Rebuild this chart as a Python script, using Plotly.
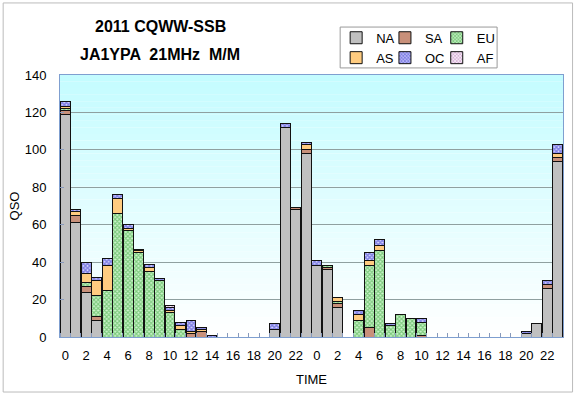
import plotly.graph_objects as go

hours = list(range(24)) + list(range(24))
tick_labels = [str(h) for h in range(0, 24, 2)] * 2

NA = [119, 61, 24, 9, 0, 0, 0, 0, 0, 0, 0, 0, 0, 0, 0, 0, 0, 0, 0, 0, 4, 112, 68, 98,
      38, 36, 16, 0, 0, 0, 0, 0, 0, 0, 0, 0, 0, 0, 0, 0, 0, 0, 0, 0, 2, 7, 26, 94]
SA = [2, 4, 3, 2, 0, 0, 0, 0, 0, 0, 0, 0, 2, 3, 0, 0, 0, 0, 0, 0, 0, 0, 1, 2,
      0, 1, 2, 0, 0, 5, 0, 0, 0, 0, 1, 0, 0, 0, 0, 0, 0, 0, 0, 0, 0, 0, 2, 2]
EU = [1, 0, 2, 11, 25, 66, 57, 45, 35, 30, 13, 4, 0, 0, 0, 0, 0, 0, 0, 0, 0, 0, 0, 0,
      0, 1, 1, 0, 9, 33, 46, 6, 12, 10, 7, 0, 0, 0, 0, 0, 0, 0, 0, 0, 0, 0, 0, 0]
AS = [1, 2, 5, 8, 13, 8, 1, 1, 2, 0, 1, 2, 1, 1, 0, 0, 0, 0, 0, 0, 0, 0, 0, 3,
      0, 0, 2, 0, 3, 3, 3, 0, 0, 0, 0, 0, 0, 0, 0, 0, 0, 0, 0, 0, 0, 0, 0, 2]
OC = [3, 1, 6, 2, 4, 2, 2, 1, 2, 1, 2, 2, 6, 1, 1, 0, 0, 0, 0, 0, 3, 2, 0, 1,
      3, 0, 0, 0, 2, 4, 3, 1, 0, 0, 2, 0, 0, 0, 0, 0, 0, 0, 0, 0, 1, 0, 2, 5]
AF = [0, 0, 0, 0, 0, 0, 0, 0, 0, 0, 1, 0, 0, 0, 0, 0, 0, 0, 0, 0, 0, 0, 0, 0,
      0, 0, 0, 0, 0, 0, 0, 0, 0, 0, 0, 0, 0, 0, 0, 0, 0, 0, 0, 0, 0, 0, 0, 0]

x = list(range(len(hours)))

series = [
    ("NA", NA, dict(color="#C0C0C0")),
    ("SA", SA, dict(color="#C8907A")),
    ("EU", EU, dict(color="#A0E0A0", pattern=dict(shape="x", fgcolor="#2E9E2E", bgcolor="#CCF5CC", size=3, solidity=0.6))),
    ("AS", AS, dict(color="#FFCC80")),
    ("OC", OC, dict(color="#6666DD", pattern=dict(shape="x", fgcolor="#2828C8", bgcolor="#D8D8FF", size=3, solidity=0.7))),
    ("AF", AF, dict(color="#E0A8E0", pattern=dict(shape="x", fgcolor="#B060B0", bgcolor="#FFFFFF", size=3, solidity=0.6))),
]
legend_pos = [(0.549, 1.142), (0.646, 1.142), (0.749, 1.142),
              (0.549, 1.066), (0.646, 1.066), (0.749, 1.066)]

fig = go.Figure()
legends = {}
for i, (name, vals, mk) in enumerate(series):
    marker = dict(mk)
    marker["line"] = dict(color="#111111", width=1)
    lg = "legend" if i == 0 else "legend%d" % (i + 1)
    fig.add_trace(go.Bar(x=x, y=vals, name=name, marker=marker, legend=lg))
    lx, ly = legend_pos[i]
    legends[lg] = dict(orientation="h", x=lx, y=ly, xanchor="left", yanchor="middle",
                       bgcolor="rgba(0,0,0,0)", font=dict(size=13), itemclick=False)

# gradient background bands (plot area)
shapes = []
n = 40
top = (196, 252, 255)
bot = (255, 255, 255)
for i in range(n):
    t = i / (n - 1)
    c = tuple(round(top[k] + (bot[k] - top[k]) * t) for k in range(3))
    shapes.append(dict(type="rect", xref="paper", yref="paper",
                       x0=0, x1=1, y0=1 - (i + 1) / n, y1=1 - i / n,
                       fillcolor="rgb(%d,%d,%d)" % c, line=dict(width=0), layer="below"))
# outer chart border
shapes.append(dict(type="rect", xref="paper", yref="paper",
                   x0=-0.113, x1=1.019, y0=-0.21, y1=1.275,
                   line=dict(color="#BBBBBB", width=1), layer="below"))
# legend box
shapes.append(dict(type="rect", xref="paper", yref="paper",
                   x0=0.557, x1=0.869, y0=1.027, y1=1.183,
                   line=dict(color="#999999", width=1), fillcolor="white", layer="below"))

fig.update_layout(
    width=578, height=396,
    margin=dict(l=60, r=15, t=75, b=59, autoexpand=False),
    paper_bgcolor="white",
    plot_bgcolor="rgba(0,0,0,0)",
    barmode="stack",
    bargap=0.06,
    font=dict(family="Liberation Sans, Arial, sans-serif", color="black", size=12),
    shapes=shapes,
    showlegend=True,
    annotations=[
        dict(text="<b>2011 CQWW-SSB</b>", xref="paper", yref="paper", x=0.199, y=1.185,
             xanchor="center", yanchor="middle",
             showarrow=False, font=dict(size=16, family="Liberation Sans, Arial, sans-serif")),
        dict(text="<b>JA1YPA  21MHz  M/M</b>", xref="paper", yref="paper", x=0.199, y=1.08,
             xanchor="center", yanchor="middle",
             showarrow=False, font=dict(size=16, family="Liberation Sans, Arial, sans-serif")),
    ],
    **legends,
)

fig.update_xaxes(
    range=[-0.5, len(x) - 0.5],
    tickmode="array", tickvals=x[::2], ticktext=tick_labels,
    ticks="", showgrid=False, zeroline=False,
    showline=True, linecolor="#7F9FD0", linewidth=1, mirror=True,
    tickfont=dict(size=13), ticklabelstandoff=6,
    minor=dict(tick0=0.5, dtick=1, ticks="inside", ticklen=4, tickcolor="#8899BB", showgrid=False),
    title=dict(text="TIME", font=dict(size=13), standoff=13),
)
fig.update_yaxes(
    range=[0, 140], dtick=20,
    showgrid=True, gridcolor="#8FA0A0", gridwidth=1, zeroline=False,
    showline=True, linecolor="#7F9FD0", linewidth=1, mirror=True,
    ticks="inside", ticklen=4, tickcolor="#8899BB",
    tickfont=dict(size=13), ticklabelstandoff=10,
    title=dict(text="QSO", font=dict(size=13), standoff=2),
)

fig.write_html("out.html", config={"displayModeBar": False},
               post_script="document.body.style.margin='0';document.body.style.overflow='hidden';")
